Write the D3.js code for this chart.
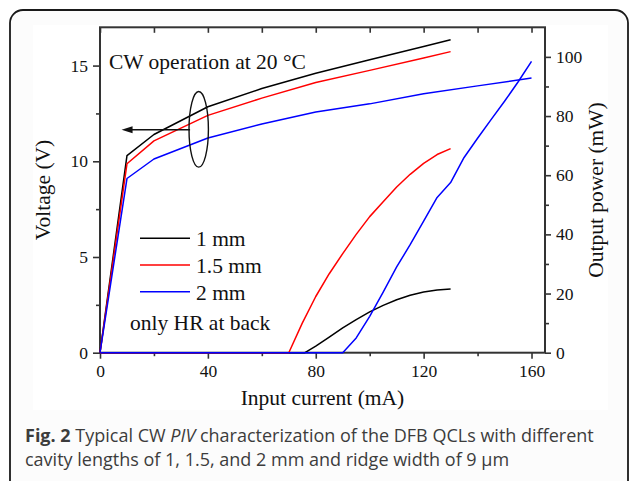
<!DOCTYPE html>
<html><head><meta charset="utf-8">
<script src="https://cdn.jsdelivr.net/npm/d3@7"></script>
<style>html,body{margin:0;padding:0;background:#fff;}svg{display:block;}</style>
</head><body>
<script>
// ---- data ----
const seriesNames = ["1 mm", "1.5 mm", "2 mm"];
const seriesColors = ["#000000", "#ff0000", "#0000ff"];

// Voltage (V) vs current (mA)
const iV1 = [0, 10, 20, 40, 60, 80, 100, 120, 130];
const v1  = [0, 10.3, 11.4, 12.85, 13.8, 14.6, 15.3, 16.0, 16.35];
const iV15 = [0, 10, 20, 40, 60, 80, 100, 120, 130];
const v15  = [0, 9.87, 11.07, 12.4, 13.3, 14.12, 14.75, 15.4, 15.73];
const iV2 = [0, 10, 20, 40, 60, 80, 100, 120, 140, 160];
const v2  = [0, 9.1, 10.12, 11.22, 11.95, 12.57, 13.0, 13.53, 13.94, 14.35];

// Output power (mW) vs current (mA)
const iP1 = [0, 76, 80, 85, 90, 95, 100, 105, 110, 115, 120, 125, 130];
const p1  = [0, 0, 2.2, 5.3, 8.4, 11.2, 13.8, 16.0, 17.9, 19.4, 20.5, 21.2, 21.5];
const iP15 = [0, 70, 75, 80, 85, 90, 95, 100, 105, 110, 115, 120, 125, 130];
const p15  = [0, 0, 10, 19, 26.7, 33.5, 40, 46, 51, 56, 60.3, 64, 67, 69];
const iP2 = [0, 90, 95, 100, 105, 110, 115, 120, 125, 130, 135, 140, 145, 150, 155, 160];
const p2  = [0, 0, 5, 12.3, 20.5, 29, 36.5, 44.5, 52.5, 57.5, 66, 72.5, 78.8, 85, 91.5, 98.5];

const xTicks = [0, 40, 80, 120, 160];
const xMinor = [20, 60, 100, 140];
const xTop = [0, 20, 40, 60, 80, 100, 120, 140, 160];
const vTicks = [0, 5, 10, 15];
const vMinor = [2.5, 7.5, 12.5];
const pTicks = [0, 20, 40, 60, 80, 100];
const pMinor = [10, 30, 50, 70, 90];

const xTitle = "Input current (mA)";
const vTitle = "Voltage (V)";
const pTitle = "Output power (mW)";
const noteTitle = "CW operation at 20 °C";
const noteHR = "only HR at back";

// ---- layout ----
const W = 630, H = 481;
const L = 100, R = 545, T = 27.3, B = 352.7;
const serif = "'Liberation Serif','Times New Roman',serif";

const svg = d3.select("body").append("svg").attr("width", W).attr("height", H);

// card
svg.append("rect").attr("x", 10).attr("y", 10).attr("width", 618).attr("height", 500)
  .attr("rx", 13).attr("fill", "#fcfcfc").attr("stroke", "#1a1a1a").attr("stroke-width", 1.8);
svg.append("rect").attr("x", 33).attr("y", 25).attr("width", 575).attr("height", 385).attr("fill", "#ffffff");

const x = d3.scaleLinear().domain([0, 165]).range([L, R]);
const yV = d3.scaleLinear().domain([0, 17]).range([B, T]);
const yP = d3.scaleLinear().domain([0, 110]).range([B, T]);

const axisColor = "#333";
function styleAxis(g) {
  g.select(".domain").remove();
  g.selectAll(".tick line").attr("stroke", axisColor).attr("stroke-width", 1.6);
  g.selectAll(".tick text").attr("font-family", serif).attr("font-size", 17.5).attr("fill", "#111");
}

// bottom
svg.append("g").attr("transform", `translate(0,${B})`)
  .call(d3.axisBottom(x).tickValues(xTicks).tickSize(6).tickPadding(6).tickFormat(d3.format("d")))
  .call(styleAxis);
svg.append("g").attr("transform", `translate(0,${B})`)
  .call(d3.axisBottom(x).tickValues(xMinor).tickSize(3.5).tickFormat(""))
  .call(styleAxis);
// top (inward)
svg.append("g").attr("transform", `translate(0,${T})`)
  .call(d3.axisTop(x).tickValues(xTop).tickSize(-5.5).tickFormat(""))
  .call(styleAxis);
// left
svg.append("g").attr("transform", `translate(${L},0)`)
  .call(d3.axisLeft(yV).tickValues(vTicks).tickSize(7).tickPadding(5).tickFormat(d3.format("d")))
  .call(styleAxis);
svg.append("g").attr("transform", `translate(${L},0)`)
  .call(d3.axisLeft(yV).tickValues(vMinor).tickSize(4).tickFormat(""))
  .call(styleAxis);
// right
svg.append("g").attr("transform", `translate(${R},0)`)
  .call(d3.axisRight(yP).tickValues(pTicks).tickSize(6).tickPadding(5).tickFormat(d3.format("d")))
  .call(styleAxis);
svg.append("g").attr("transform", `translate(${R},0)`)
  .call(d3.axisRight(yP).tickValues(pMinor).tickSize(4).tickFormat(""))
  .call(styleAxis);

// frame
svg.append("rect").attr("x", L).attr("y", T).attr("width", R - L).attr("height", B - T)
  .attr("fill", "none").attr("stroke", axisColor).attr("stroke-width", 2);

// axis titles
svg.append("text").attr("x", (L + R) / 2).attr("y", 405).attr("text-anchor", "middle")
  .attr("font-family", serif).attr("font-size", 21.5).attr("fill", "#111").text(xTitle);
svg.append("text").attr("transform", `translate(50,${(T + B) / 2}) rotate(-90)`).attr("text-anchor", "middle")
  .attr("font-family", serif).attr("font-size", 21.5).attr("fill", "#111").text(vTitle);
svg.append("text").attr("transform", `translate(603,${(T + B) / 2}) rotate(-90)`).attr("text-anchor", "middle")
  .attr("font-family", serif).attr("font-size", 21.5).attr("fill", "#111").text(pTitle);

// curves
const toPts = (xs, ys) => xs.map((d, i) => [d, ys[i]]);
const lineV = d3.line().x(d => x(d[0])).y(d => yV(d[1]));
const lineP = d3.line().x(d => x(d[0])).y(d => yP(d[1]));
const vSeries = [toPts(iV1, v1), toPts(iV15, v15), toPts(iV2, v2)];
const pSeries = [toPts(iP1, p1), toPts(iP15, p15), toPts(iP2, p2)];
pSeries.forEach((s, k) => {
  svg.append("path").attr("d", lineP(s)).attr("fill", "none")
    .attr("stroke", seriesColors[k]).attr("stroke-width", 1.5).attr("stroke-linejoin", "round");
});
vSeries.forEach((s, k) => {
  svg.append("path").attr("d", lineV(s)).attr("fill", "none")
    .attr("stroke", seriesColors[k]).attr("stroke-width", 1.5).attr("stroke-linejoin", "round");
});

// legend
const legY0 = 238.3, legDy = 26.7;
seriesNames.forEach((n, k) => {
  const yy = legY0 + k * legDy;
  svg.append("line").attr("x1", 140).attr("x2", 190).attr("y1", yy).attr("y2", yy)
    .attr("stroke", seriesColors[k]).attr("stroke-width", 1.5);
  svg.append("text").attr("x", 196).attr("y", yy + 8).attr("font-family", serif)
    .attr("font-size", 21.5).attr("fill", "#111").text(n);
});
svg.append("text").attr("x", 130).attr("y", 330).attr("font-family", serif)
  .attr("font-size", 21.5).attr("fill", "#111").text(noteHR);

// annotation
svg.append("text").attr("x", 109).attr("y", 68.5).attr("font-family", serif)
  .attr("font-size", 21.5).attr("fill", "#111").text(noteTitle);
const ellC = [36.6, 11.67];
svg.append("ellipse").attr("cx", x(ellC[0])).attr("cy", yV(ellC[1])).attr("rx", 9.7).attr("ry", 37.8)
  .attr("fill", "none").attr("stroke", "#111").attr("stroke-width", 1.4);
const arrowY = yV(11.65);
svg.append("line").attr("x1", x(33.4)).attr("x2", x(8.0) + 8).attr("y1", arrowY).attr("y2", arrowY)
  .attr("stroke", "#111").attr("stroke-width", 1.4);
svg.append("path").attr("d", `M${x(8.0)},${arrowY} l11,-3.5 l0,7 Z`).attr("fill", "#111");

// caption
const cap = svg.append("g").attr("font-family", "'Open Sans','Noto Sans',sans-serif").attr("font-size", 18).attr("fill", "#3c3c3c");
const l1 = cap.append("text").attr("x", 25).attr("y", 442);
l1.append("tspan").attr("font-weight", "bold").text("Fig. 2");
l1.append("tspan").text(" Typical CW ");
l1.append("tspan").attr("font-style", "italic").text("PIV");
l1.append("tspan").text(" characterization of the DFB QCLs with different");
cap.append("text").attr("x", 25).attr("y", 466).text("cavity lengths of 1, 1.5, and 2 mm and ridge width of 9 μm");
</script>
</body></html>
